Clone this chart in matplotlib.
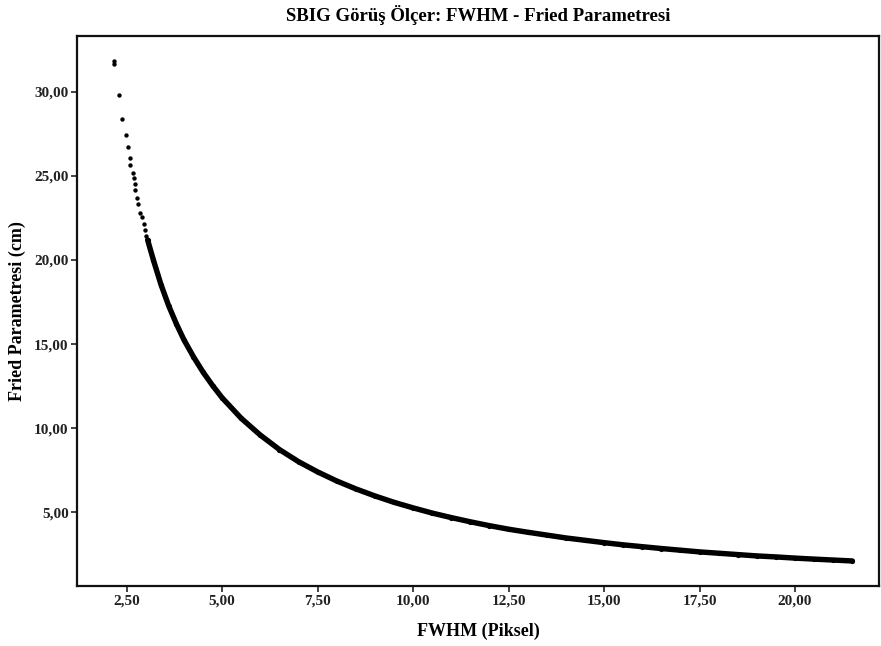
import matplotlib
matplotlib.use('Agg')
import matplotlib.pyplot as plt

plt.rcParams['font.family'] = ['Liberation Serif', 'DejaVu Serif']
plt.rcParams['font.weight'] = 'bold'

# sparse points at the top of the curve (FWHM in pixels, Fried parameter in cm)
fwhm_top = [2.18, 2.18, 2.30, 2.39, 2.49, 2.53, 2.59, 2.60, 2.66, 2.70, 2.71,
            2.72, 2.78, 2.80, 2.85, 2.90, 2.96, 2.98, 3.01]
fried_top = [31.85, 31.64, 29.82, 28.39, 27.42, 26.74, 26.07, 25.65, 25.16, 24.88, 24.52,
             24.17, 23.69, 23.33, 22.80, 22.58, 22.14, 21.79, 21.43]

# dense part of the data, read along the band
fwhm = [3.05, 3.2, 3.4, 3.6, 3.8, 4.0, 4.25, 4.5, 4.75, 5.0, 5.5, 6.0, 6.5, 7.0, 7.5,
        8.0, 8.5, 9.0, 9.5, 10.0, 10.5, 11.0, 11.5, 12.0, 12.5, 13.0, 13.5, 14.0,
        14.5, 15.0, 15.5, 16.0, 16.5, 17.0, 17.5, 18.0, 18.5, 19.0, 19.5, 20.0,
        20.5, 21.0, 21.5]
fried = [21.19, 20.00, 18.53, 17.28, 16.21, 15.25, 14.24, 13.33, 12.53, 11.80, 10.58,
         9.58, 8.72, 8.00, 7.39, 6.85, 6.38, 5.96, 5.58, 5.25, 4.94, 4.67, 4.42, 4.19,
         3.98, 3.80, 3.63, 3.46, 3.32, 3.18, 3.05, 2.94, 2.83, 2.73, 2.63, 2.55, 2.47,
         2.39, 2.33, 2.26, 2.20, 2.145, 2.09]

xticks = [2.5, 5.0, 7.5, 10.0, 12.5, 15.0, 17.5, 20.0]
yticks = [5.0, 10.0, 15.0, 20.0, 25.0, 30.0]

fig = plt.figure(figsize=(8.81, 6.46), dpi=100)
ax = fig.add_axes([77/881, 1-586/646, (879-77)/881, (586-36)/646])

ax.scatter(fwhm_top, fried_top, s=10, color='black', linewidths=0)
ax.plot(fwhm, fried, color='black', lw=3.9, solid_capstyle='round')
ax.scatter(fwhm, fried, s=14, color='black', linewidths=0)

ax.set_xlim(1.2, 22.2)
ax.set_ylim(0.6, 33.33)
ax.set_xticks(xticks)
ax.set_yticks(yticks)
ax.set_xticklabels([('%.2f' % v).replace('.', ',') for v in xticks])
ax.set_yticklabels([('%.2f' % v).replace('.', ',') for v in yticks])
ax.tick_params(direction='out', length=4, width=1.2, labelsize=11, pad=2, colors='#222222')
for s in ax.spines.values():
    s.set_linewidth(1.6)
    s.set_color('#111111')

ax.set_title('SBIG Görüş Ölçer: FWHM - Fried Parametresi', fontsize=13.5, fontweight='bold', pad=11)
ax.set_xlabel('FWHM (Piksel)', fontsize=13, fontweight='bold', labelpad=11)
ax.set_ylabel('Fried Parametresi (cm)', fontsize=13, fontweight='bold', labelpad=6)

fig.savefig('out.png', dpi=100)
